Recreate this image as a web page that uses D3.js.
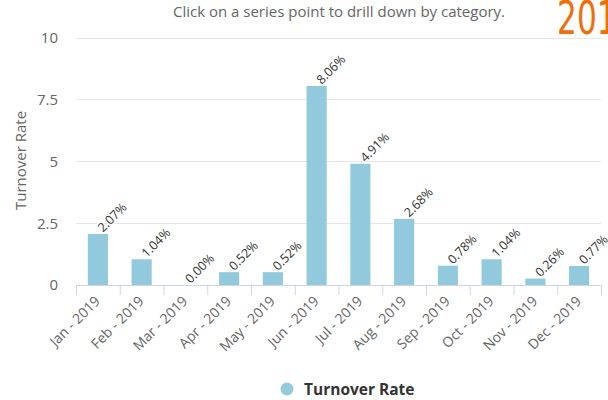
<!DOCTYPE html>
<html>
<head>
<meta charset="utf-8">
<script src="https://cdn.jsdelivr.net/npm/d3@7"></script>
<style>
  html, body { margin: 0; padding: 0; background: #fff; }
  svg { display: block; font-family: "Open Sans", "DejaVu Sans", sans-serif; }
</style>
</head>
<body>
<svg id="chart" width="608" height="400"></svg>
<script>
// Monthly turnover rate, 2019
const months = ["Jan - 2019", "Feb - 2019", "Mar - 2019", "Apr - 2019", "May - 2019", "Jun - 2019",
                "Jul - 2019", "Aug - 2019", "Sep - 2019", "Oct - 2019", "Nov - 2019", "Dec - 2019"];
const turnoverRate = [2.07, 1.04, 0.00, 0.52, 0.52, 8.06, 4.91, 2.68, 0.78, 1.04, 0.26, 0.77];
const yTicks = [0, 2.5, 5, 7.5, 10];
const yTickLabels = ["0", "2.5", "5", "7.5", "10"];
const seriesName = "Turnover Rate";
const subtitle = "Click on a series point to drill down by category.";
const yearLabel = "2019";

const svg = d3.select("#chart");
const plot = { left: 76, right: 601, top: 38, bottom: 285 };

const x = d3.scaleBand().domain(months).range([plot.left, plot.right]).paddingInner(0.54).paddingOuter(0.27);
const xStep = d3.scaleBand().domain(months).range([plot.left, plot.right]);
const y = d3.scaleLinear().domain([0, 10]).range([plot.bottom, plot.top]);

// Year badge in the top-right corner
svg.append("text")
  .attr("x", 557).attr("y", 34)
  .attr("font-family", "'DejaVu Sans', sans-serif")
  .attr("font-size", 46)
  .attr("fill", "#EE6F0B")
  .attr("transform", "translate(557,0) scale(0.68,1) translate(-557,0)")
  .text(yearLabel);

// Subtitle
svg.append("text")
  .attr("x", 339).attr("y", 17)
  .attr("text-anchor", "middle")
  .attr("font-size", 15)
  .attr("fill", "#666")
  .text(subtitle);

// Horizontal gridlines
svg.append("g").selectAll("line").data(yTicks).join("line")
  .attr("x1", plot.left).attr("x2", plot.right)
  .attr("y1", d => y(d)).attr("y2", d => y(d))
  .attr("stroke", "#e6e6e6").attr("stroke-width", 1)
  .attr("shape-rendering", "crispEdges");

// Y axis labels
const yAxis = d3.axisLeft(y).tickValues(yTicks).tickFormat((d, i) => yTickLabels[i]).tickSize(0).tickPadding(18);
const yG = svg.append("g").attr("transform", `translate(${plot.left},0)`).call(yAxis);
yG.select(".domain").remove();
yG.selectAll("text").attr("font-size", 15).attr("fill", "#666").attr("font-family", "'Open Sans', sans-serif");

// Y axis title
svg.append("text")
  .attr("transform", `translate(26,${(plot.top + plot.bottom) / 2 - 1}) rotate(-90)`)
  .attr("text-anchor", "middle")
  .attr("font-size", 15)
  .attr("fill", "#666")
  .text("Turnover Rate");

// Bars
svg.append("g").selectAll("rect").data(turnoverRate).join("rect")
  .attr("x", (d, i) => x(months[i]))
  .attr("y", d => y(d))
  .attr("width", x.bandwidth())
  .attr("height", d => y(0) - y(d))
  .attr("fill", "#92C9DD");

// X axis with category tick marks between bars
const xAxis = d3.axisBottom(xStep).tickSize(0).tickFormat("");
const xG = svg.append("g").attr("transform", `translate(0,${plot.bottom})`).call(xAxis);
xG.select(".domain").attr("stroke", "#ccd6eb");
const tickPos = months.map(m => xStep(m)).concat([plot.right]);
xG.selectAll("line.cat").data(tickPos).join("line").attr("class", "cat")
  .attr("x1", d => d + 0.5).attr("x2", d => d + 0.5)
  .attr("y1", 0).attr("y2", 10)
  .attr("stroke", "#ccd6eb");

// Rotated category labels
svg.append("g").selectAll("text").data(months).join("text")
  .attr("transform", d => `translate(${xStep(d) + xStep.bandwidth() / 2 + 3},${plot.bottom + 17}) rotate(-45)`)
  .attr("text-anchor", "end")
  .attr("font-size", 14)
  .attr("fill", "#666")
  .text(d => d);

// Value labels on bars
svg.append("g").selectAll("text").data(turnoverRate).join("text")
  .attr("transform", (d, i) => `translate(${x(months[i]) + x.bandwidth() / 2 + 5},${y(d) - 1}) rotate(-45)`)
  .attr("font-size", 12.5)
  .attr("fill", "#333")
  .attr("stroke", "#fff").attr("stroke-width", 2.5).attr("paint-order", "stroke")
  .attr("stroke-linejoin", "round")
  .text(d => d.toFixed(2) + "%");

// Legend
const legend = svg.append("g");
legend.append("circle").attr("cx", 287).attr("cy", 389).attr("r", 6.5).attr("fill", "#92C9DD");
legend.append("text").attr("x", 304).attr("y", 395)
  .attr("font-size", 15.5).attr("font-weight", "bold").attr("fill", "#333")
  .text(seriesName);
</script>
</body>
</html>
